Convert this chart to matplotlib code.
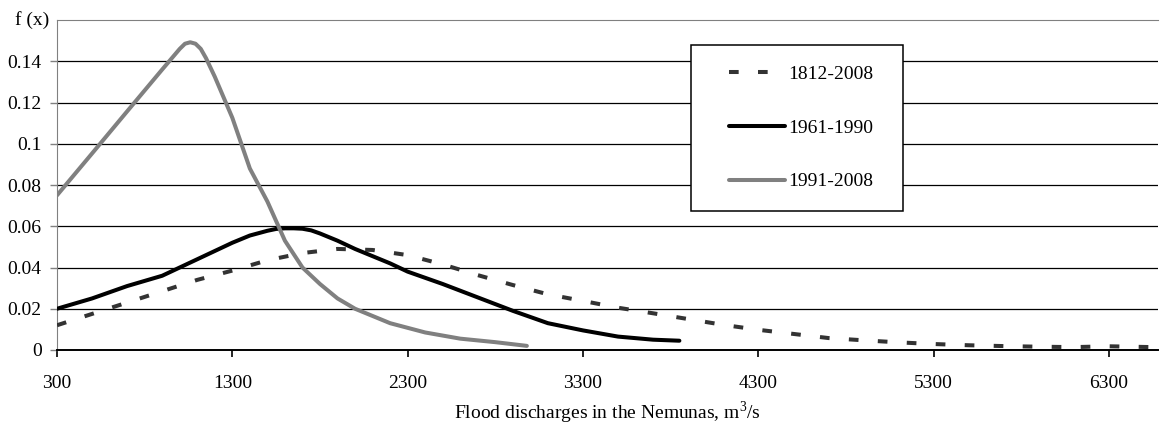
import matplotlib
matplotlib.use("Agg")
import matplotlib.pyplot as plt
from matplotlib.patches import Rectangle
from matplotlib.ticker import FuncFormatter

plt.rcParams['font.family'] = ['Liberation Serif', 'DejaVu Serif']
plt.rcParams['mathtext.fontset'] = 'custom'
plt.rcParams['mathtext.rm'] = 'Liberation Serif'

# 1812-2008 (dashed)
x_1812 = [300, 500, 700, 900, 1100, 1300, 1500, 1700, 1900, 2100, 2300, 2500, 2700,
          2900, 3100, 3300, 3500, 3700, 3900, 4100, 4300, 4500, 4700, 4900, 5100,
          5300, 5500, 5700, 5900, 6100, 6300, 6550]
y_1812 = [0.012, 0.0175, 0.023, 0.0285, 0.034, 0.0385, 0.0435, 0.047, 0.049, 0.0485,
          0.046, 0.0415, 0.0363, 0.0315, 0.027, 0.0238, 0.0205, 0.0178, 0.015, 0.0122,
          0.0098, 0.0078, 0.0058, 0.0047, 0.0037, 0.0029, 0.0023, 0.0019, 0.0016,
          0.0014, 0.0018, 0.0014]

# 1961-1990 (black)
x_1961 = [300, 500, 700, 900, 1000, 1100, 1200, 1300, 1400, 1500, 1550, 1600, 1650,
          1700, 1750, 1800, 1900, 2000, 2100, 2200, 2300, 2500, 2700, 2900, 3100,
          3300, 3500, 3700, 3850]
y_1961 = [0.020, 0.025, 0.031, 0.036, 0.040, 0.044, 0.048, 0.052, 0.0555, 0.0578,
          0.0587, 0.059, 0.059, 0.0588, 0.058, 0.0565, 0.053, 0.049, 0.0455, 0.042,
          0.038, 0.032, 0.0255, 0.019, 0.013, 0.0095, 0.0065, 0.005, 0.0045]

# 1991-2008 (grey)
x_1991 = [300, 500, 700, 900, 1000, 1030, 1060, 1090, 1120, 1150, 1200, 1300, 1400,
          1500, 1600, 1700, 1800, 1900, 2000, 2100, 2200, 2400, 2600, 2800, 2980]
y_1991 = [0.075, 0.0953, 0.1157, 0.136, 0.146, 0.1485, 0.1492, 0.1485, 0.146, 0.1415,
          0.1325, 0.1126, 0.088, 0.072, 0.053, 0.040, 0.032, 0.025, 0.020, 0.0165,
          0.013, 0.0085, 0.0055, 0.0038, 0.002]

labels = ['1812-2008', '1961-1990', '1991-2008']
x_ticks = [300, 1300, 2300, 3300, 4300, 5300, 6300]
y_ticks = [0, 0.02, 0.04, 0.06, 0.08, 0.1, 0.12, 0.14]

fig = plt.figure(figsize=(11.6, 4.26), dpi=100)
ax = fig.add_axes([57/1160, 76/426, 1101/1160, 330/426])

ax.plot(x_1812, y_1812, color='#333333', lw=2.9, dashes=(2.4, 4.8),
        solid_capstyle='butt', dash_capstyle='butt', label=labels[0], zorder=3)
ax.plot(x_1961, y_1961, color='black', lw=2.9, solid_capstyle='round',
        solid_joinstyle='round', label=labels[1], zorder=3)
ax.plot(x_1991, y_1991, color='#808080', lw=2.9, solid_capstyle='round',
        solid_joinstyle='round', label=labels[2], zorder=3)

ax.set_xlim(300, 6580)
ax.set_ylim(0, 0.16)
ax.set_xticks(x_ticks)
ax.set_yticks(y_ticks)
ax.yaxis.set_major_formatter(FuncFormatter(lambda v, p: '%g' % v))
ax.tick_params(axis='both', labelsize=14)
ax.tick_params(axis='x', length=5, width=1.2, color='black', pad=13)
ax.tick_params(axis='y', length=5, width=1, color='#808080', pad=6)
ax.grid(axis='y', color='black', lw=0.9)
ax.set_axisbelow(True)

ax.spines['right'].set_visible(False)
ax.spines['left'].set_color('#808080')
ax.spines['top'].set_color('#808080')
ax.spines['bottom'].set_color('black')
ax.spines['bottom'].set_linewidth(1.4)

ax.set_xlabel('Flood discharges in the Nemunas, m$^3$/s', fontsize=14)
ax.xaxis.set_label_coords(0.5, -0.15)
fig.text(15/1160, 1 - 20/426, 'f (x)', fontsize=14, va='center', ha='left')

# legend box
bx0, by0 = (691-57)/1101, (350-211)/330
bw, bh = 212/1101, 166/330
ax.add_patch(Rectangle((bx0, by0), bw, bh, transform=ax.transAxes,
                       facecolor='white', edgecolor='black', lw=1.1, zorder=5))
leg = ax.legend(loc='center', bbox_to_anchor=(bx0 + bw/2 + 0.004, by0 + bh/2),
                frameon=False, fontsize=14, handlelength=2.85, handletextpad=0.2,
                labelspacing=1.85)
leg.set_zorder(6)

fig.savefig('out.png', dpi=100)
